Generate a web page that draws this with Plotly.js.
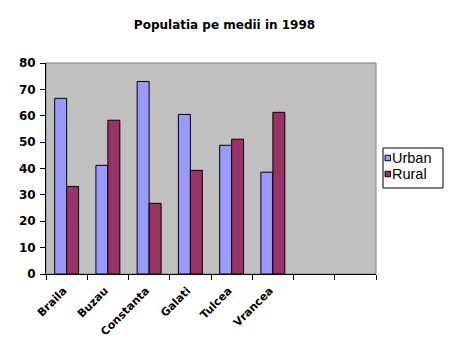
<!DOCTYPE html>
<html><head><meta charset="utf-8">
<script src="https://cdn.plot.ly/plotly-3.0.1.min.js"></script>
<style>body{margin:0;background:#fff}#c{width:449px;height:358px}</style>
</head><body><div id="c"></div>
<script>
const categories = ["Braila","Buzau","Constanta","Galati","Tulcea","Vrancea"," ","  "];
const urban = [66.6, 41.2, 73.0, 60.5, 48.8, 38.6, null, null];
const rural = [33.2, 58.3, 26.8, 39.3, 51.1, 61.3, null, null];
const seriesNames = ["Urban","Rural"];
const seriesColors = ["#9999FF","#993366"];
const tickVals = [0,10,20,30,40,50,60,70,80];

const BOLD = "DejaVu Sans, Verdana, sans-serif";
const M = {l:46, r:73, t:63, b:84};
const W = 449, H = 358;
const pw = W - M.l - M.r, ph = H - M.t - M.b;
const px2x = p => (p - M.l) / pw;
const px2y = p => (H - M.b - p) / ph;

const data = [urban, rural].map((vals, i) => ({
  type:"bar", name:seriesNames[i], x:categories, y:vals,
  marker:{color:seriesColors[i], line:{color:"#000", width:1}}
}));

// legend drawn as a box with markers + labels (Excel-like compact legend)
const legendShapes = [{type:"rect", xref:"paper", yref:"paper",
  x0:px2x(383), x1:px2x(443), y0:px2y(188), y1:px2y(148),
  line:{color:"#000", width:1}, fillcolor:"#fff"}];
const legendAnn = [];
seriesNames.forEach((n, i) => {
  const cy = 158 + i * 16;
  legendShapes.push({type:"rect", xref:"paper", yref:"paper",
    x0:px2x(385), x1:px2x(390.5), y0:px2y(cy + 2.75), y1:px2y(cy - 2.75),
    line:{color:"#000", width:1}, fillcolor:seriesColors[i]});
  legendAnn.push({text:n, xref:"paper", yref:"paper", x:px2x(390), y:px2y(cy),
    xanchor:"left", yanchor:"middle", showarrow:false,
    font:{family:"Liberation Sans, Arial, sans-serif", size:14.5, color:"#000"}});
});

const layout = {
  width:W, height:H, margin:M,
  paper_bgcolor:"#fff", plot_bgcolor:"#C0C0C0",
  font:{family:BOLD, size:11, color:"#000"},
  title:{text:"<b>Populatia pe medii in 1998</b>", x:0.5, xanchor:"center", y:1 - 25/H, yanchor:"middle",
         font:{size:12, family:BOLD, color:"#000"}},
  barmode:"group", bargap:0.42, bargroupgap:0,
  showlegend:false,
  xaxis:{type:"category", tickangle:-45, showline:true, linecolor:"#000", linewidth:1,
         ticks:"outside", ticklen:5, tickcolor:"#000", tickson:"boundaries",
         tickvals:categories, ticktext:categories.map(c => "<b>" + c + "</b>"),
         tickfont:{size:11, family:BOLD}, showgrid:false, automargin:false,
         ticklabelstandoff:5, ticklabelshift:-3,
         range:[-0.5, 7.5], fixedrange:true},
  yaxis:{range:[0,80], tickvals:tickVals, ticktext:tickVals.map(v => "<b>" + v + "</b>"),
         showline:true, linecolor:"#000", linewidth:1, ticks:"outside", ticklen:5, tickcolor:"#000",
         showgrid:false, zeroline:false, automargin:false, tickfont:{size:12, family:BOLD}, ticklabelstandoff:2},
  shapes:[{type:"rect", xref:"paper", yref:"paper", x0:0, x1:1, y0:0, y1:1,
           line:{color:"#808080", width:1}, fillcolor:"rgba(0,0,0,0)", layer:"below"}].concat(legendShapes),
  annotations:legendAnn
};
Plotly.newPlot("c", data, layout, {displayModeBar:false, staticPlot:true});
</script></body></html>
